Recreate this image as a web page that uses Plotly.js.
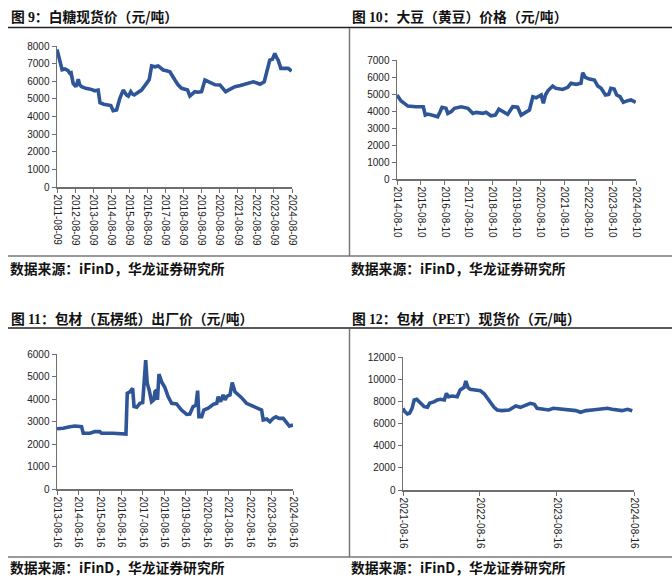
<!DOCTYPE html>
<html><head><meta charset="utf-8">
<script src="https://cdn.plot.ly/plotly-3.0.1.min.js"></script>
<style>html,body{margin:0;padding:0;background:#fff;}#chart{width:672px;height:583px;}</style>
</head><body><div id="chart"></div>
<script>
// ---------- data ----------
const sugarDates = ['2011-08-09','2011-09-05','2011-10-08','2011-11-20','2012-01-15','2012-03-20','2012-04-25','2012-05-20','2012-07-01','2012-08-25','2012-10-12','2012-11-10','2012-12-20','2013-03-10','2013-06-15','2013-09-12','2013-11-18','2013-12-25','2014-03-10','2014-06-10','2014-08-01','2014-09-16','2014-11-25','2015-01-30','2015-04-08','2015-06-14','2015-07-20','2015-09-08','2015-10-10','2015-11-16','2016-02-10','2016-04-12','2016-07-22','2016-09-15','2016-11-02','2017-01-10','2017-03-14','2017-06-24','2017-09-01','2017-11-06','2018-02-16','2018-04-20','2018-07-01','2018-10-30','2018-12-16','2019-03-26','2019-06-01','2019-08-08','2019-10-16','2020-01-22','2020-05-10','2020-08-14','2020-12-06','2021-03-10','2021-06-14','2021-10-01','2022-01-01','2022-03-20','2022-06-18','2022-09-01','2022-11-01','2023-01-26','2023-03-20','2023-05-18','2023-07-10','2023-08-28','2023-10-01','2023-11-03','2023-12-28','2024-03-10','2024-05-22','2024-08-01'];
const sugarPrices = [7800,7500,7200,6650,6700,6600,6450,6480,5880,5690,6110,5800,5690,5600,5550,5460,5500,4780,4700,4650,4620,4330,4370,5030,5500,5220,5150,5410,5280,5220,5350,5500,5880,6100,6870,6820,6870,6640,6600,6540,6070,5800,5600,5500,5160,5410,5380,5410,6070,5920,5800,5790,5410,5550,5690,5760,5830,5900,5970,5900,5830,5970,6600,7200,7250,7580,7350,7200,6730,6750,6730,6580];

const soyDates = ['2014-08-10','2014-09-16','2014-10-12','2014-12-01','2015-01-22','2015-05-26','2015-09-16','2015-10-16','2015-11-22','2016-03-03','2016-04-22','2016-05-30','2016-06-28','2016-08-28','2016-09-24','2016-11-14','2017-01-04','2017-04-16','2017-07-28','2017-10-12','2017-12-02','2018-03-14','2018-05-01','2018-07-16','2018-09-20','2018-11-14','2019-01-12','2019-03-28','2019-06-14','2019-08-28','2019-10-20','2019-12-10','2020-02-24','2020-04-16','2020-06-06','2020-08-22','2020-09-24','2020-10-26','2020-12-02','2021-02-14','2021-04-04','2021-07-16','2021-10-01','2021-11-20','2022-02-06','2022-04-22','2022-05-18','2022-06-28','2022-08-28','2022-11-14','2023-01-04','2023-02-24','2023-05-01','2023-06-20','2023-07-22','2023-09-12','2023-10-20','2023-12-10','2024-01-30','2024-04-04','2024-05-26','2024-08-06'];
const soyPrices = [4940,4750,4590,4450,4290,4250,4250,3760,3820,3720,3660,3960,4220,4160,3860,3960,4160,4250,4160,3860,3920,3860,3920,3720,3760,4100,3960,3800,4250,4220,3760,3860,4060,4840,4780,4940,4450,4940,5190,5470,5330,5270,5390,5630,5570,5630,6250,5980,5880,5820,5470,5330,4940,4980,5330,5290,4940,4840,4510,4610,4650,4510];

const paperDates = ['2013-08-16','2013-11-28','2014-03-24','2014-06-16','2014-10-08','2014-11-06','2015-02-28','2015-05-22','2015-08-14','2015-09-12','2016-03-28','2016-11-02','2016-11-24','2017-01-08','2017-02-24','2017-03-20','2017-05-04','2017-06-28','2017-08-14','2017-10-04','2017-10-30','2017-12-02','2018-01-12','2018-02-20','2018-03-10','2018-04-08','2018-04-22','2018-05-18','2018-07-01','2018-08-25','2018-10-22','2018-12-20','2019-03-14','2019-06-06','2019-09-02','2019-10-26','2019-12-20','2020-02-06','2020-03-06','2020-03-28','2020-05-14','2020-06-20','2020-09-02','2020-11-28','2021-01-26','2021-02-20','2021-04-01','2021-05-14','2021-06-14','2021-07-22','2021-09-08','2021-10-16','2021-12-02','2022-01-26','2022-03-24','2022-06-16','2022-10-08','2023-01-01','2023-02-28','2023-03-28','2023-05-26','2023-07-20','2023-09-12','2023-10-30','2023-12-24','2024-03-03','2024-05-01','2024-06-14','2024-08-16'];
const paperPrices = [2680,2700,2770,2800,2770,2480,2480,2550,2550,2480,2480,2440,4250,4320,4470,3660,3630,3810,3840,5730,4700,4400,3880,3960,4320,4400,3960,5110,4770,4520,4100,3810,3780,3510,3320,3330,3660,3720,4370,3210,3210,3510,3590,3760,3810,4100,3880,4180,3960,4130,4180,4730,4320,4200,4060,3810,3690,3590,3510,3070,3110,2990,3140,3210,3140,3140,2920,2800,2840];

const petDates = ['2021-08-16','2021-08-22','2021-09-06','2021-09-16','2021-09-28','2021-10-08','2021-10-20','2021-11-06','2021-11-24','2021-12-10','2021-12-20','2022-01-12','2022-01-26','2022-02-10','2022-02-28','2022-03-10','2022-03-20','2022-04-08','2022-04-30','2022-05-14','2022-06-02','2022-06-10','2022-06-20','2022-07-01','2022-07-26','2022-08-18','2022-09-06','2022-09-20','2022-10-04','2022-10-22','2022-11-06','2022-11-28','2023-01-01','2023-01-16','2023-02-02','2023-02-24','2023-03-20','2023-04-12','2023-05-01','2023-05-14','2023-06-06','2023-07-08','2023-07-30','2023-09-08','2023-10-12','2023-11-14','2023-12-06','2024-01-01','2024-01-30','2024-03-03','2024-04-12','2024-05-04','2024-05-30','2024-06-20','2024-07-16','2024-08-08'];
const petPrices = [7370,7130,6860,6920,7370,8120,8180,7820,7520,7460,7820,7970,8120,8180,8120,8720,8420,8480,8420,9020,9260,9830,9260,9080,9020,8960,8660,8270,7970,7460,7220,7160,7220,7370,7580,7460,7670,7820,7730,7370,7310,7220,7370,7310,7220,7160,7010,7160,7220,7280,7370,7280,7220,7160,7280,7160];

const sugarTicks = ['2011-08-09','2012-08-09','2013-08-09','2014-08-09','2015-08-09','2016-08-09','2017-08-09','2018-08-09','2019-08-09','2020-08-09','2021-08-09','2022-08-09','2023-08-09','2024-08-09'];
const soyTicks = ['2014-08-10','2015-08-10','2016-08-10','2017-08-10','2018-08-10','2019-08-10','2020-08-10','2021-08-10','2022-08-10','2023-08-10','2024-08-10'];
const paperTicks = ['2013-08-16','2014-08-16','2015-08-16','2016-08-16','2017-08-16','2018-08-16','2019-08-16','2020-08-16','2021-08-16','2022-08-16','2023-08-16','2024-08-16'];
const petTicks = ['2021-08-16','2022-08-16','2023-08-16','2024-08-16'];

const titles = ['图 <span style="font-family:Liberation Serif">9</span>：白糖现货价（元/吨）',
                '图 <span style="font-family:Liberation Serif">10</span>：大豆（黄豆）价格（元/吨）',
                '图 <span style="font-family:Liberation Serif">11</span>：包材（瓦楞纸）出厂价（元/吨）',
                '图 <span style="font-family:Liberation Serif">12</span>：包材（<span style="font-family:Liberation Serif">PET</span>）现货价（元/吨）'];
const sourceText = '数据来源：iFinD，华龙证券研究所';

// ---------- layout helpers ----------
const W = 672, H = 583;
const px = x => x / W, py = y => 1 - y / H;
const axisColor = '#6f6f6f';
const tickFont = {family: 'Liberation Sans, Arial, sans-serif', size: 10, color: '#222'};
const lineStyle = {color: '#2E5597', width: 3.6};

function xa(domain, ticks, anchor) {
  return {domain: domain, type: 'date', range: [ticks[0], ticks[ticks.length - 1]],
    tickmode: 'array', tickvals: ticks, ticktext: ticks, tickangle: 90,
    showline: true, linecolor: axisColor, linewidth: 1.5, ticks: 'outside', ticklen: 4,
    tickcolor: axisColor, tickwidth: 1, showgrid: false, zeroline: false,
    tickfont: tickFont, anchor: anchor, fixedrange: true};
}
function ya(domain, max, dtick, anchor) {
  return {domain: domain, range: [0, max], dtick: dtick, tick0: 0, tickformat: 'd',
    exponentformat: 'none', separatethousands: false,
    showline: true, linecolor: axisColor, linewidth: 1.5, ticks: 'outside', ticklen: 4,
    tickcolor: axisColor, tickwidth: 1, showgrid: false, zeroline: false,
    tickfont: tickFont, anchor: anchor, fixedrange: true};
}

const traces = [
  {x: sugarDates, y: sugarPrices, xaxis: 'x', yaxis: 'y', mode: 'lines', line: lineStyle, hoverinfo: 'skip'},
  {x: soyDates, y: soyPrices, xaxis: 'x2', yaxis: 'y2', mode: 'lines', line: lineStyle, hoverinfo: 'skip'},
  {x: paperDates, y: paperPrices, xaxis: 'x3', yaxis: 'y3', mode: 'lines', line: lineStyle, hoverinfo: 'skip'},
  {x: petDates, y: petPrices, xaxis: 'x4', yaxis: 'y4', mode: 'lines', line: lineStyle, hoverinfo: 'skip'}
];

const titleFont = {family: 'Noto Sans CJK SC, sans-serif', size: 13.8, color: '#111'};
const srcFont = {family: 'Noto Sans CJK SC, sans-serif', size: 13.8, color: '#111'};
function ann(text, x, y, font) {
  return {text: '<b>' + text + '</b>', xref: 'paper', yref: 'paper', x: px(x), y: py(y),
    xanchor: 'left', yanchor: 'middle', showarrow: false, font: font};
}
function hline(x0, x1, y, color, w) {
  return {type: 'line', xref: 'paper', yref: 'paper', x0: px(x0), x1: px(x1), y0: py(y), y1: py(y), line: {color: color, width: w}};
}
function vline(x, y0, y1, color, w) {
  return {type: 'line', xref: 'paper', yref: 'paper', x0: px(x), x1: px(x), y0: py(y0), y1: py(y1), line: {color: color, width: w}};
}

const layout = {
  width: W, height: H, margin: {l: 0, r: 0, t: 0, b: 0},
  paper_bgcolor: '#fff', plot_bgcolor: '#fff', showlegend: false,
  xaxis: xa([px(57), px(292)], sugarTicks, 'y'),
  yaxis: ya([py(187), py(46)], 8000, 1000, 'x'),
  xaxis2: xa([px(397), px(636)], soyTicks, 'y2'),
  yaxis2: ya([py(179), py(60)], 7000, 1000, 'x2'),
  xaxis3: xa([px(57), px(293)], paperTicks, 'y3'),
  yaxis3: ya([py(489), py(354)], 6000, 1000, 'x3'),
  xaxis4: xa([px(403), px(634)], petTicks, 'y4'),
  yaxis4: ya([py(490), py(357)], 12000, 2000, 'x4'),
  annotations: [
    ann(titles[0], 9, 16.5, titleFont),
    ann(titles[1], 350, 16.5, titleFont),
    ann(titles[2], 9, 318, titleFont),
    ann(titles[3], 350, 318, titleFont),
    ann(sourceText, 8, 268, srcFont),
    ann(sourceText, 349, 268, srcFont),
    ann(sourceText, 8, 567, srcFont),
    ann(sourceText, 349, 567, srcFont)
  ],
  shapes: [
    hline(8, 672, 27.5, '#222', 1.5),
    hline(8, 672, 256, '#777', 1.5),
    vline(349.5, 28, 256, '#777', 1.5),
    hline(8, 672, 328, '#222', 1.5),
    hline(8, 672, 557, '#777', 1.5),
    vline(349.5, 329, 557, '#777', 1.5)
  ]
};

Plotly.newPlot('chart', traces, layout, {staticPlot: true, displayModeBar: false});
</script></body></html>
